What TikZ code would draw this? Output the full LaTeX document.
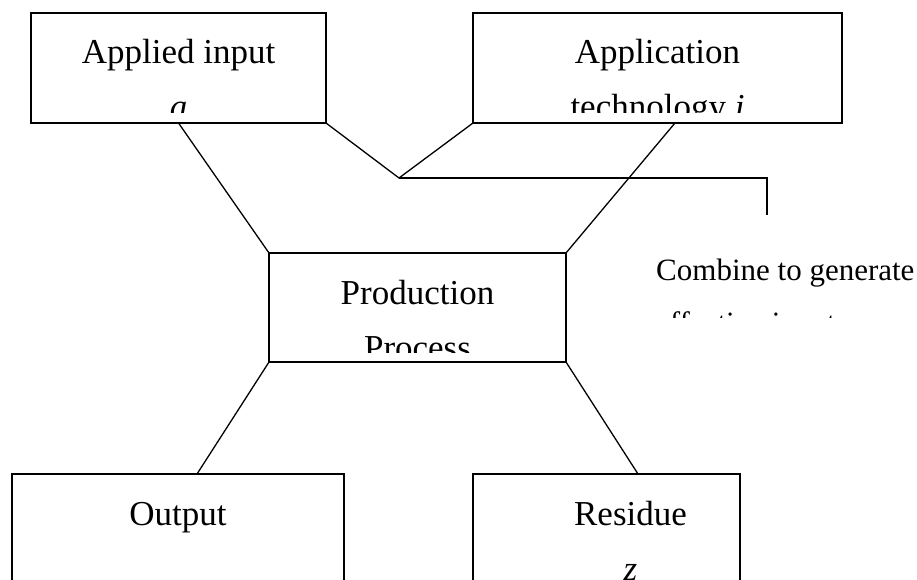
\documentclass[tikz,border=0pt]{standalone}
\usepackage{fontspec}
\setmainfont{Liberation Serif}
\tikzset{
  box/.style={draw, line width=1.3pt, inner sep=0pt, outer sep=0pt},
  text shift/.store in=\boxshift, text shift=0pt,
  boxlines/.style 2 args={path picture={
      \clip ([yshift=10pt]path picture bounding box.south west) rectangle (path picture bounding box.north east);
      \node[font=\fontsize{35pt}{42pt}\selectfont, anchor=base] at ([xshift=\boxshift, yshift=-51pt]path picture bounding box.north) {#1};
      \node[font=\fontsize{35pt}{42pt}\selectfont, anchor=base] at ([xshift=\boxshift, yshift=-106pt]path picture bounding box.north) {#2};
  }},
  link/.style={line width=1.3pt},
  note/.style={font=\fontsize{31pt}{37pt}\selectfont, anchor=base west, inner sep=0pt}
}
\begin{document}
\begin{tikzpicture}[x=1pt,y=-1pt]
  \clip (0,0) rectangle (917,580);
  % draw the input boxes
  \node[box, minimum width=295pt, minimum height=110pt, boxlines={Applied input}{\textit{a}}] (applied) at (178.5,68) {};
  \node[box, minimum width=369pt, minimum height=110pt, boxlines={Application}{technology \textit{i}}] (tech) at (657.5,68) {};
  % draw the process box
  \node[box, minimum width=297pt, minimum height=109pt, boxlines={Production}{Process}] (process) at (417.5,307.5) {};
  % draw the result boxes
  \node[box, minimum width=332pt, minimum height=166pt, boxlines={Output}{}] (output) at (178,557) {};
  \node[box, minimum width=267pt, minimum height=166pt, text shift=24pt, boxlines={Residue}{\textit{z}}] (residue) at (606.5,557) {};
  % draw the combine note
  \coordinate (join) at (399,178);
  \coordinate (tip) at (767,215);
  \begin{scope}
    \clip (650,230) rectangle (917,317);
    \node[note] (combine) at (656,280) {Combine to generate};
    \node[note] (effective) at (656,333) {effective input};
  \end{scope}
  % draw the links
  \draw[link] (applied.south) -- (process.north west);
  \draw[link] (applied.south east) -- (join) -- (tech.south west);
  \draw[link] (join) -| (tip);
  \draw[link] ([xshift=17.5pt]tech.south) -- (process.north east);
  \draw[link] (process.south west) -- ([xshift=19pt]output.north);
  \draw[link] (process.south east) -- ([xshift=31.5pt]residue.north);
\end{tikzpicture}
\end{document}
